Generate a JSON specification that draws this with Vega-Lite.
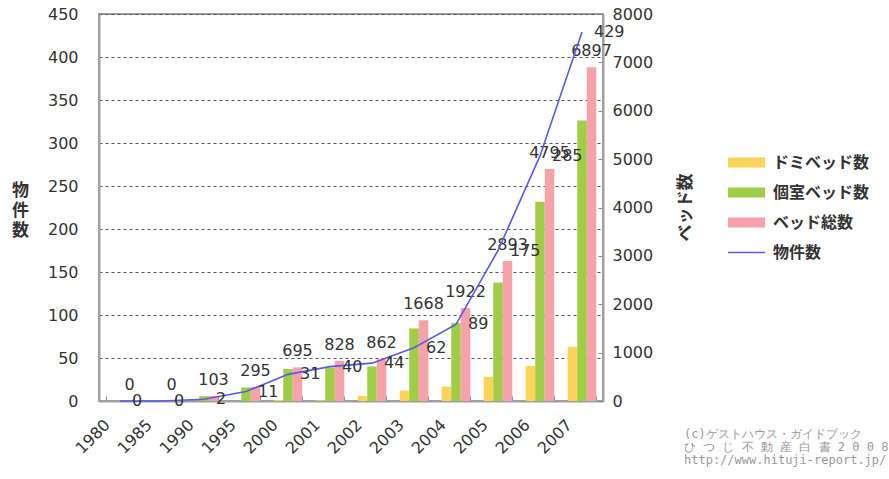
{
  "$schema": "https://vega.github.io/schema/vega-lite/v6.json",
  "width": 504,
  "height": 387,
  "autosize": {"type": "none"},
  "padding": {"left": 99, "top": 14, "right": 286, "bottom": 78},
  "background": "white",
  "config": {
    "view": {"stroke": "#a0a0a0", "strokeWidth": 2},
    "font": "DejaVu Sans",
    "axis": {"labelFont": "DejaVu Sans", "labelFontSize": 16, "labelColor": "#333", "domainColor": "#a0a0a0", "domainWidth": 2, "tickColor": "#888"}
  },
  "title": {
    "text": ["(c)ゲストハウス・ガイドブック", "ひ つ じ 不 動 産 白 書 2 0 0 8", "http://www.hituji-report.jp/"],
    "orient": "bottom",
    "anchor": "start",
    "frame": "group",
    "align": "left",
    "dx": 585,
    "dy": -27,
    "offset": 0,
    "font": "DejaVu Sans Mono",
    "fontSize": 12,
    "fontWeight": "normal",
    "color": "#9a9a9a",
    "lineHeight": 13
  },
  "data": {
    "values": [
      {"year": "1980", "ドミベッド数": 0, "個室ベッド数": 0, "ベッド総数": 0, "物件数": 0},
      {"year": "1985", "ドミベッド数": 0, "個室ベッド数": 0, "ベッド総数": 0, "物件数": 0},
      {"year": "1990", "ドミベッド数": 3, "個室ベッド数": 100, "ベッド総数": 103, "物件数": 2},
      {"year": "1995", "ドミベッド数": 0, "個室ベッド数": 280, "ベッド総数": 295, "物件数": 11},
      {"year": "2000", "ドミベッド数": 20, "個室ベッド数": 660, "ベッド総数": 695, "物件数": 31},
      {"year": "2001", "ドミベッド数": 15, "個室ベッド数": 690, "ベッド総数": 828, "物件数": 40},
      {"year": "2002", "ドミベッド数": 103, "個室ベッド数": 715, "ベッド総数": 862, "物件数": 44},
      {"year": "2003", "ドミベッド数": 215, "個室ベッド数": 1500, "ベッド総数": 1668, "物件数": 62},
      {"year": "2004", "ドミベッド数": 300, "個室ベッド数": 1615, "ベッド総数": 1922, "物件数": 89},
      {"year": "2005", "ドミベッド数": 500, "個室ベッド数": 2450, "ベッド総数": 2893, "物件数": 175},
      {"year": "2006", "ドミベッド数": 720, "個室ベッド数": 4120, "ベッド総数": 4795, "物件数": 285},
      {"year": "2007", "ドミベッド数": 1120, "個室ベッド数": 5800, "ベッド総数": 6897, "物件数": 429}
    ]
  },
  "encoding": {
    "x": {
      "field": "year",
      "type": "ordinal",
      "scale": {"paddingInner": 0.32, "paddingOuter": 0.16},
      "axis": {
        "title": null,
        "tickBand": "extent",
        "tickSize": -5,
        "labelAngle": -45,
        "labelAlign": "right",
        "labelBaseline": "middle",
        "labelPadding": 26,
        "labelOffset": -13
      }
    }
  },
  "layer": [
    {
      "transform": [{"fold": ["ドミベッド数", "個室ベッド数", "ベッド総数"], "as": ["series", "beds"]}],
      "encoding": {
        "xOffset": {"field": "series", "type": "nominal", "sort": ["ドミベッド数", "個室ベッド数", "ベッド総数"], "scale": {"paddingInner": 0, "paddingOuter": 0}},
        "y": {
          "field": "beds",
          "type": "quantitative",
          "scale": {"domain": [0, 8000], "nice": false},
          "axis": {
            "orient": "right",
            "values": [0, 1000, 2000, 3000, 4000, 5000, 6000, 7000, 8000],
            "format": "d",
            "grid": false,
            "tickSize": -5,
            "labelPadding": 14,
            "title": "ベッド数",
            "titleFont": "Noto Sans CJK JP",
            "titleFontSize": 17,
            "titleFontWeight": "bold",
            "titleColor": "#333",
            "titleAngle": 270,
            "titleX": 82,
            "titleY": 193,
            "titleAlign": "center",
            "titleBaseline": "middle"
          }
        }
      },
      "layer": [
        {
          "mark": {"type": "bar"},
          "encoding": {
            "color": {
              "field": "series",
              "type": "nominal",
              "scale": {
                "domain": ["ドミベッド数", "個室ベッド数", "ベッド総数", "物件数"],
                "range": ["#fdd35a", "#9fcd45", "#f7a2aa", "#5a5ae6"]
              },
              "legend": {
                "orient": "none",
                "legendX": 629,
                "legendY": 130,
                "title": null,
                "symbolType": "M-1,-0.27H1V0.27H-1Z",
                "symbolSize": 1369,
                "symbolStrokeWidth": 0,
                "symbolOpacity": 1,
                "labelFont": "Noto Sans CJK JP",
                "labelFontSize": 16,
                "labelFontWeight": "bold",
                "labelColor": "#333",
                "labelOffset": 8,
                "rowPadding": 3,
                "encode": {
                  "symbols": {
                    "update": {
                      "shape": {"signal": "datum.value === '物件数' ? 'M-1,-0.04H1V0.04H-1Z' : 'M-1,-0.27H1V0.27H-1Z'"}
                    }
                  }
                }
              }
            }
          }
        },
        {
          "transform": [{"filter": "datum.series === 'ベッド総数'"}],
          "mark": {"type": "text", "baseline": "bottom", "dy": -8, "fontSize": 16, "font": "DejaVu Sans", "color": "#333"},
          "encoding": {"text": {"field": "beds", "type": "quantitative"}}
        }
      ]
    },
    {
      "encoding": {
        "y": {
          "field": "物件数",
          "type": "quantitative",
          "scale": {"domain": [0, 450], "nice": false},
          "axis": {
            "orient": "left",
            "values": [0, 50, 100, 150, 200, 250, 300, 350, 400, 450],
            "grid": true,
            "gridColor": "#555",
            "gridDash": [3, 3],
            "gridWidth": 1,
            "tickSize": 0,
            "labelPadding": 21,
            "title": ["物", "件", "数"],
            "titleFont": "Noto Sans CJK JP",
            "titleFontSize": 17,
            "titleFontWeight": "bold",
            "titleColor": "#333",
            "titleLineHeight": 20,
            "titleAngle": 0,
            "titleX": -79,
            "titleY": 176,
            "titleAlign": "center",
            "titleBaseline": "middle"
          }
        }
      },
      "layer": [
        {"mark": {"type": "line", "color": "#5a5ae6", "strokeWidth": 1.6}},
        {
          "mark": {"type": "text", "align": "left", "baseline": "middle", "dx": 12, "fontSize": 16, "font": "DejaVu Sans", "color": "#333"},
          "encoding": {"text": {"field": "物件数", "type": "quantitative"}}
        }
      ]
    }
  ],
  "resolve": {"scale": {"y": "independent"}}
}
